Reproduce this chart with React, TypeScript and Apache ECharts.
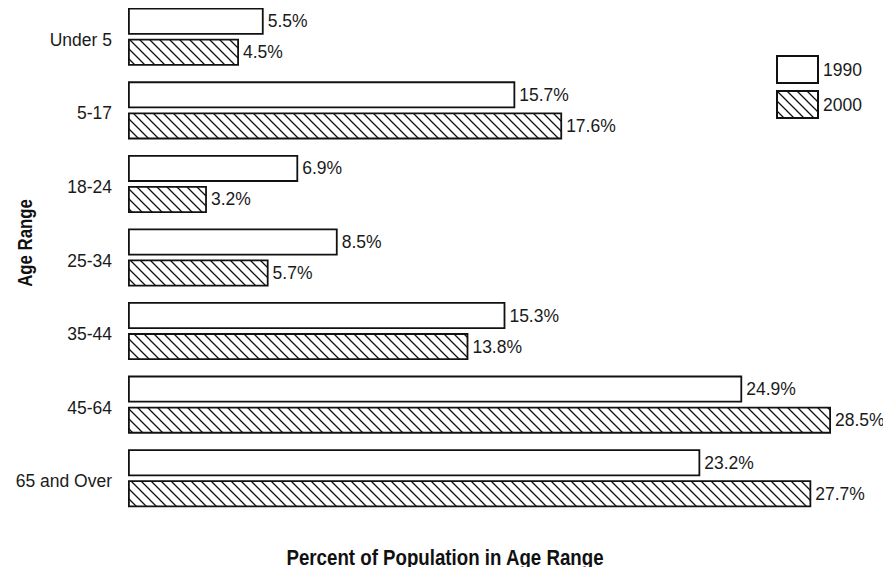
import React, { useEffect, useRef } from "react";
import * as echarts from "echarts";

const categories = ["Under 5", "5-17", "18-24", "25-34", "35-44", "45-64", "65 and Over"];
const seriesNames = ["1990", "2000"];
const values1990 = [5.5, 15.7, 6.9, 8.5, 15.3, 24.9, 23.2];
const values2000 = [4.5, 17.6, 3.2, 5.7, 13.8, 28.5, 27.7];
const yTitle = "Age Range";
const xTitle = "Percent of Population in Age Range";

const FONT = '"Liberation Sans", Arial, Helvetica, sans-serif';

const hatchSvg =
  '<svg xmlns="http://www.w3.org/2000/svg" width="10" height="10">' +
  '<rect width="10" height="10" fill="white"/>' +
  '<path d="M-1,-1 L11,11 M-1,9 L1,11 M9,-1 L11,1" stroke="#111" stroke-width="1.3"/>' +
  "</svg>";
const hatchUrl = "data:image/svg+xml;charset=utf-8," + encodeURIComponent(hatchSvg);

export default function App() {
  const ref = useRef<HTMLDivElement>(null);
  useEffect(() => {
    if (!ref.current) return;
    const chart = echarts.init(ref.current, null, { renderer: "svg" });
    const labelStyle = {
      show: true,
      position: "right" as const,
      distance: 4,
      fontFamily: FONT,
      fontSize: 17.5,
      color: "#1a1a1a",
      formatter: (p: any) => p.value + "%",
    };
    chart.setOption({
      animation: false,
      backgroundColor: "#fff",
      grid: { left: 128, top: 0, width: 740, height: 515, containLabel: false },
      xAxis: {
        type: "value",
        min: 0,
        max: 30,
        show: false,
      },
      yAxis: {
        type: "category",
        data: categories,
        inverse: true,
        axisLine: { show: false },
        axisTick: { show: false },
        splitLine: { show: false },
        axisLabel: {
          fontFamily: FONT,
          fontSize: 17.5,
          color: "#1a1a1a",
          margin: 16,
          lineHeight: 6,
          formatter: (v: string) => " \n" + v,
        },
      },
      legend: {
        orient: "vertical",
        left: 776,
        top: 55,
        padding: 0,
        icon: "rect",
        itemWidth: 41,
        itemHeight: 27,
        itemGap: 6,
        data: seriesNames,
        textStyle: { fontFamily: FONT, fontSize: 17.5, color: "#1a1a1a" },
      },
      graphic: [
        {
          type: "text",
          x: 25,
          y: 243,
          rotation: Math.PI / 2,
          scaleX: 0.8,
          style: {
            text: yTitle,
            fontFamily: FONT,
            fontSize: 21,
            fontWeight: "bold",
            fill: "#111",
            textAlign: "center",
            textVerticalAlign: "middle",
          },
        },
        {
          type: "text",
          x: 445,
          y: 557,
          scaleX: 0.85,
          style: {
            text: xTitle,
            fontFamily: FONT,
            fontSize: 22,
            fontWeight: "bold",
            fill: "#111",
            textAlign: "center",
            textVerticalAlign: "middle",
          },
        },
      ],
      series: [
        {
          name: seriesNames[0],
          type: "bar",
          data: values1990,
          barWidth: 27,
          barGap: "15%",
          itemStyle: { color: "#fff", borderColor: "#111", borderWidth: 1.8 },
          label: labelStyle,
        },
        {
          name: seriesNames[1],
          type: "bar",
          data: values2000,
          barWidth: 27,
          barGap: "15%",
          itemStyle: {
            color: { image: hatchUrl, repeat: "repeat" } as any,
            borderColor: "#111",
            borderWidth: 1.8,
          },
          label: labelStyle,
        },
      ],
    });
    return () => chart.dispose();
  }, []);
  return <div ref={ref} style={{ width: 891, height: 575, margin: -8 }} />;
}
